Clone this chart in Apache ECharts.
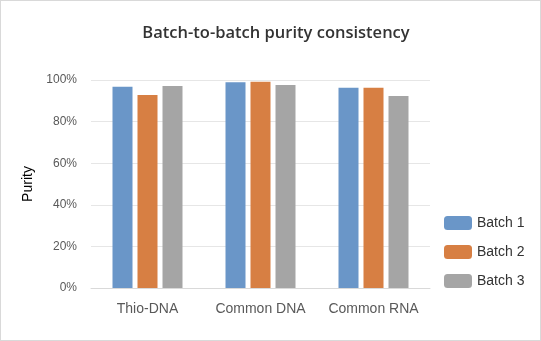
<!DOCTYPE html>
<html><head><meta charset="utf-8">
<script src="https://cdn.jsdelivr.net/npm/echarts@6/dist/echarts.min.js"></script>
<style>html,body{margin:0;padding:0;background:#fff}#c{width:541px;height:341px;box-sizing:border-box;border:1px solid #d9d9d9}</style>
</head><body><div id="c"></div>
<script>
var categories = ['Thio-DNA', 'Common DNA', 'Common RNA'];
var batch1 = [96.8, 98.9, 96.3];
var batch2 = [92.8, 99.2, 96.3];
var batch3 = [97.1, 97.6, 92.3];
var seriesNames = ['Batch 1', 'Batch 2', 'Batch 3'];
var colors = ['#6a96c8', '#d77f43', '#a5a5a5'];
var chart = echarts.init(document.getElementById('c'));
var data = [batch1, batch2, batch3];
chart.setOption({
  animation: false,
  title: { text: 'Batch-to-batch purity consistency', left: 270, top: 19, textAlign: 'center',
    textStyle: { fontFamily: 'Open Sans', fontSize: 16.5, fontWeight: 600, color: '#333' } },
  legend: { orient: 'vertical', left: 438, top: 210, itemWidth: 28, itemHeight: 14, itemGap: 15,
    data: seriesNames, textStyle: { fontFamily: 'Liberation Sans', fontSize: 14, color: '#333' } },
  grid: { left: 90, right: 110, top: 79, bottom: 52, containLabel: false },
  xAxis: { type: 'category', data: categories,
    axisLine: { lineStyle: { color: '#d9d9d9' } }, axisTick: { show: false },
    axisLabel: { interval: 0, hideOverlap: false, fontFamily: 'Liberation Sans', fontSize: 14, color: '#595959', margin: 14 } },
  yAxis: { type: 'value', min: 0, max: 100, interval: 20, name: 'Purity', nameLocation: 'middle', nameGap: 54,
    nameTextStyle: { fontFamily: 'Liberation Sans', fontSize: 14, color: '#000' },
    axisLabel: { formatter: '{value}%', fontFamily: 'Liberation Sans', fontSize: 12, color: '#595959', margin: 14 },
    axisLine: { show: false }, axisTick: { show: false },
    splitLine: { lineStyle: { color: '#e6e6e6' } } },
  series: data.map(function (d, i) {
    return { name: seriesNames[i], type: 'bar', data: d, barWidth: 20, barGap: '25%',
      itemStyle: { color: colors[i] } };
  })
});
</script></body></html>
